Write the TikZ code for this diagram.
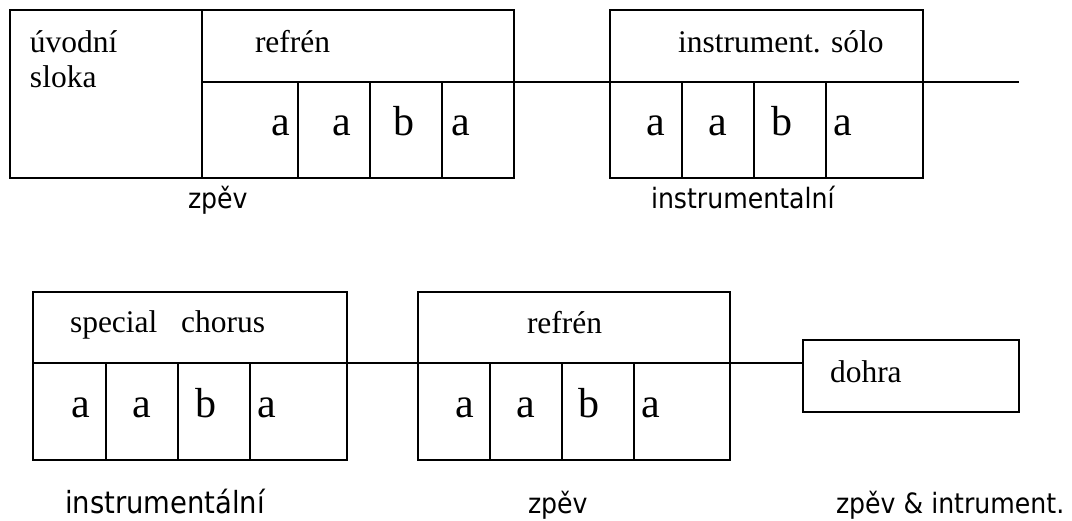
\documentclass[tikz,border=0pt]{standalone}
\usepackage{fontspec}
\setmainfont{Liberation Serif}
\newfontfamily\sansfnt{DejaVu Sans Condensed}
\tikzset{
  cellbox/.style={draw, line width=1.5pt, rectangle, inner sep=0pt, outer sep=0pt, anchor=north west},
  headtext/.style={inner sep=0pt, outer sep=0pt, anchor=base west, font=\fontsize{31.5}{35}\selectfont},
  lettertext/.style={inner sep=0pt, outer sep=0pt, anchor=base west, font=\fontsize{42}{46}\selectfont},
  sanslabel/.style={inner sep=0pt, outer sep=0pt, anchor=base west, font=\sansfnt\fontsize{28}{32}\selectfont},
  sanslabelbig/.style={sanslabel, font=\sansfnt\fontsize{30.5}{34}\selectfont},
  conn/.style={line width=1.5pt}
}
\begin{document}
\begin{tikzpicture}[x=1pt,y=-1pt]
\useasboundingbox (0,0) rectangle (1072,520);
% ---- top row ----
\node[cellbox, minimum width=192pt, minimum height=168pt] (uvod) at (10,10) {};
\node[cellbox, minimum width=312pt, minimum height=72pt] (refA) at (202,10) {};
\node[cellbox, minimum width=96pt, minimum height=96pt] (refAa) at (202,82) {};
\node[cellbox, minimum width=72pt, minimum height=96pt] (refAb) at (298,82) {};
\node[cellbox, minimum width=72pt, minimum height=96pt] (refAc) at (370,82) {};
\node[cellbox, minimum width=72pt, minimum height=96pt] (refAd) at (442,82) {};
\node[cellbox, minimum width=313pt, minimum height=72pt] (solo) at (610,10) {};
\node[cellbox, minimum width=72pt, minimum height=96pt] (soloa) at (610,82) {};
\node[cellbox, minimum width=72pt, minimum height=96pt] (solob) at (682,82) {};
\node[cellbox, minimum width=72pt, minimum height=96pt] (soloc) at (754,82) {};
\node[cellbox, minimum width=97pt, minimum height=96pt] (solod) at (826,82) {};
\coordinate (topend) at (1019,82);
\draw[conn] (refA.south east) -- (solo.south west);
\draw[conn] (solo.south east) -- (topend);
% texts top
\node[headtext, align=left] (tuvod) at (30,87) {úvodní\\sloka};
\node[headtext] (trefA) at (255,52) {refrén};
\node[headtext] (tsolo) at (678,52) {instrument. sólo};
\node[lettertext] (l1) at (271,135) {a};
\node[lettertext] (l2) at (332,135) {a};
\node[lettertext] (l3) at (393,135) {b};
\node[lettertext] (l4) at (451,135) {a};
\node[lettertext] (l5) at (646,135) {a};
\node[lettertext] (l6) at (708,135) {a};
\node[lettertext] (l7) at (771,135) {b};
\node[lettertext] (l8) at (833,135) {a};
\node[sanslabel] (zpevA) at (188,208) {zpěv};
\node[sanslabel] (instrA) at (651,208) {instrumentalní};
% ---- bottom row ----
\node[cellbox, minimum width=314pt, minimum height=71pt] (spec) at (33,292) {};
\node[cellbox, minimum width=73pt, minimum height=97pt] (speca) at (33,363) {};
\node[cellbox, minimum width=72pt, minimum height=97pt] (specb) at (106,363) {};
\node[cellbox, minimum width=72pt, minimum height=97pt] (specc) at (178,363) {};
\node[cellbox, minimum width=97pt, minimum height=97pt] (specd) at (250,363) {};
\node[cellbox, minimum width=312pt, minimum height=71pt] (refB) at (418,292) {};
\node[cellbox, minimum width=72pt, minimum height=97pt] (refBa) at (418,363) {};
\node[cellbox, minimum width=72pt, minimum height=97pt] (refBb) at (490,363) {};
\node[cellbox, minimum width=72pt, minimum height=97pt] (refBc) at (562,363) {};
\node[cellbox, minimum width=96pt, minimum height=97pt] (refBd) at (634,363) {};
\node[cellbox, minimum width=216pt, minimum height=72pt] (dohra) at (803,340) {};
\draw[conn] (spec.south east) -- (refB.south west);
\draw[conn] (refB.south east) -- (refB.south east -| dohra.west);
% texts bottom
\node[headtext] (tspec) at (70,332) {special\ \ \ chorus};
\node[headtext] (trefB) at (527,333) {refrén};
\node[headtext] (tdohra) at (830,382) {dohra};
\node[lettertext] (m1) at (71,417) {a};
\node[lettertext] (m2) at (132,417) {a};
\node[lettertext] (m3) at (195,417) {b};
\node[lettertext] (m4) at (257,417) {a};
\node[lettertext] (m5) at (455,417) {a};
\node[lettertext] (m6) at (516,417) {a};
\node[lettertext] (m7) at (578,417) {b};
\node[lettertext] (m8) at (641,417) {a};
\node[sanslabelbig] (instrB) at (65,513) {instrumentální};
\node[sanslabel] (zpevB) at (528,513) {zpěv};
\node[sanslabel] (zpevC) at (836,513) {zpěv \& intrument.};
\end{tikzpicture}
\end{document}
